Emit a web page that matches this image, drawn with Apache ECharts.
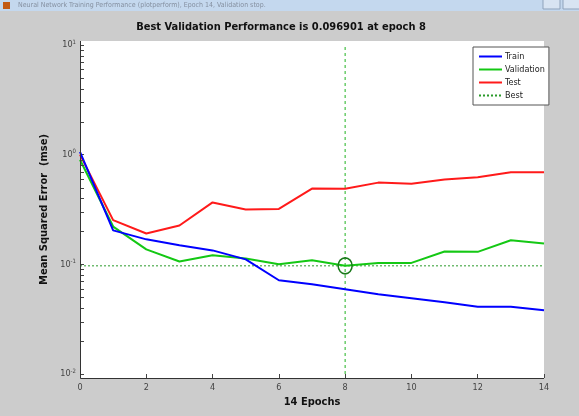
<!DOCTYPE html>
<html>
<head>
<meta charset="utf-8">
<script src="https://cdn.jsdelivr.net/npm/echarts@6/dist/echarts.min.js"></script>
<style>
  html, body { margin: 0; padding: 0; background: #cccccc; }
  #chart { width: 579px; height: 416px; }
</style>
</head>
<body>
<div id="chart"></div>
<script>
// epochs 0..14
const epochs = [0, 1, 2, 3, 4, 5, 6, 7, 8, 9, 10, 11, 12, 13, 14];
const train = [1.06, 0.204, 0.169, 0.149, 0.134, 0.111, 0.0716, 0.0658, 0.0593, 0.0534, 0.0491, 0.0451, 0.041, 0.041, 0.0382];
const validation = [0.9, 0.221, 0.137, 0.106, 0.121, 0.113, 0.1, 0.109, 0.096901, 0.103, 0.103, 0.131, 0.13, 0.166, 0.155];
const test = [1.0, 0.253, 0.191, 0.226, 0.367, 0.316, 0.32, 0.491, 0.49, 0.556, 0.542, 0.593, 0.622, 0.69, 0.69];
const bestEpoch = 8;
const bestValue = 0.096901;
const yRange = [0.01, 10];
// minor ticks on the log axis (2..9 x 10^n)
const minorTicks = [];
[0.01, 0.1, 1].forEach(d => { for (let k = 2; k <= 9; k++) minorTicks.push([0, +(k * d).toPrecision(3)]); });

const chart = echarts.init(document.getElementById('chart'));
const font = '"Liberation Sans Narrow", "DejaVu Sans Condensed", Arial, sans-serif';

const option = {
  backgroundColor: '#cccccc',
  animation: false,
  textStyle: { fontFamily: font },
  grid: { left: 80, right: 35, top: 45, bottom: 42 },
  legend: {
    data: ['Train', 'Validation', 'Test', 'Best'],
    orient: 'vertical',
    left: 473, top: 47,
    backgroundColor: '#ffffff',
    borderColor: '#555555', borderWidth: 1,
    padding: [5, 4, 5, 5],
    itemWidth: 23, itemHeight: 10, itemGap: 4,
    itemStyle: { color: 'rgba(0,0,0,0)', borderWidth: 0 },
    textStyle: { fontFamily: font, fontSize: 9, color: '#222', padding: [0, 0, 0, -2] }
  },
  xAxis: {
    type: 'value', min: 0, max: 14, interval: 2, offset: 4,
    name: '14 Epochs', nameLocation: 'middle', nameGap: 19,
    nameTextStyle: { fontFamily: font, fontWeight: 'bold', fontSize: 11, color: '#111' },
    axisLine: { show: false },
    axisTick: { inside: true, length: 4, lineStyle: { color: '#444' } },
    axisLabel: { fontSize: 9, color: '#444', margin: 5 },
    splitLine: { show: false }
  },
  yAxis: {
    type: 'log', logBase: 10, min: yRange[0], max: yRange[1],
    name: 'Mean Squared Error  (mse)', nameLocation: 'middle', nameGap: 22,
    nameTextStyle: { fontFamily: font, fontWeight: 'bold', fontSize: 11, color: '#111' },
    axisLine: { show: false },
    axisTick: { inside: true, length: 4, lineStyle: { color: '#444' } },
    axisLabel: {
      margin: 4,
      formatter: v => '{b|10}{s|' + Math.round(Math.log10(v)) + '}',
      rich: {
        b: { fontFamily: font, fontSize: 9, color: '#444' },
        s: { fontFamily: font, fontSize: 6, color: '#444', verticalAlign: 'top', padding: [0, 0, 6, 0] }
      }
    },
    splitLine: { show: false }
  },
  graphic: [
    { type: 'rect', z: -10, shape: { x: 80, y: 41, width: 464, height: 337 }, style: { fill: '#ffffff' } },
    { type: 'polyline', z: 100, shape: { points: [[80.5, 41], [80.5, 378.5], [544, 378.5]] }, style: { stroke: '#333', lineWidth: 1, fill: null } },
    { type: 'rect', z: 100, shape: { x: 0, y: 0, width: 579, height: 11 }, style: { fill: '#c4d8ee' } },
    { type: 'rect', z: 101, shape: { x: 3, y: 2, width: 7, height: 7 }, style: { fill: '#c25a14' } },
    { type: 'text', z: 101, x: 18, y: 5, style: { text: 'Neural Network Training Performance (plotperform), Epoch 14, Validation stop.', font: '7px ' + font, fill: '#8590a0', textVerticalAlign: 'middle' } },
    { type: 'rect', z: 101, shape: { x: 543, y: -2, width: 17, height: 11 }, style: { fill: '#d8e4f2', stroke: '#8fa3bb' } },
    { type: 'rect', z: 101, shape: { x: 563, y: -2, width: 17, height: 11 }, style: { fill: '#d8e4f2', stroke: '#8fa3bb' } },
    { type: 'text', z: 101, x: 281, y: 27, style: { text: 'Best Validation Performance is 0.096901 at epoch 8', font: 'bold 11px ' + font, fill: '#111', textAlign: 'center', textVerticalAlign: 'middle' } }
  ],
  series: [
    {
      name: 'Train', type: 'line', showSymbol: false, symbol: 'none',
      data: epochs.map((e, i) => [e, train[i]]),
      lineStyle: { color: '#0000ff', width: 2 }, itemStyle: { color: '#0000ff' }, z: 5
    },
    {
      name: 'Validation', type: 'line', showSymbol: false, symbol: 'none',
      data: epochs.map((e, i) => [e, validation[i]]),
      lineStyle: { color: '#14c814', width: 2 }, itemStyle: { color: '#14c814' }, z: 4
    },
    {
      name: 'Test', type: 'line', showSymbol: false, symbol: 'none',
      data: epochs.map((e, i) => [e, test[i]]),
      lineStyle: { color: '#ff1a1a', width: 2 }, itemStyle: { color: '#ff1a1a' }, z: 3
    },
    {
      name: 'Best', type: 'line', showSymbol: false, symbol: 'none',
      data: [[0, bestValue], [14, bestValue]],
      lineStyle: { color: '#2a9a2a', width: 1, type: [2, 2] }, itemStyle: { color: '#2a9a2a' }, z: 2
    },
    {
      name: 'bestVertical', type: 'line', showSymbol: false, symbol: 'none', silent: true,
      data: [[bestEpoch, yRange[0]], [bestEpoch, yRange[1]]],
      lineStyle: { color: '#46bf46', width: 1.2, type: [3, 3] }, z: 2
    },
    {
      name: 'bestMarker', type: 'scatter', silent: true,
      data: [[bestEpoch, bestValue]],
      symbol: 'circle', symbolSize: [14, 16],
      itemStyle: { color: 'rgba(0,0,0,0)', borderColor: '#1a7a1a', borderWidth: 1.6, opacity: 1 }, z: 6
    },
    {
      name: 'minorTicks', type: 'custom', silent: true, clip: false,
      encode: { x: 0, y: 1 },
      data: minorTicks,
      z: 20,
      renderItem: (params, api) => {
        const p = api.coord([api.value(0), api.value(1)]);
        return { type: 'line', shape: { x1: p[0] + 0.5, y1: Math.round(p[1]) + 0.5, x2: p[0] + 4, y2: Math.round(p[1]) + 0.5 }, style: { stroke: '#444', lineWidth: 1 } };
      }
    }
  ]
};
chart.setOption(option);
</script>
</body>
</html>
